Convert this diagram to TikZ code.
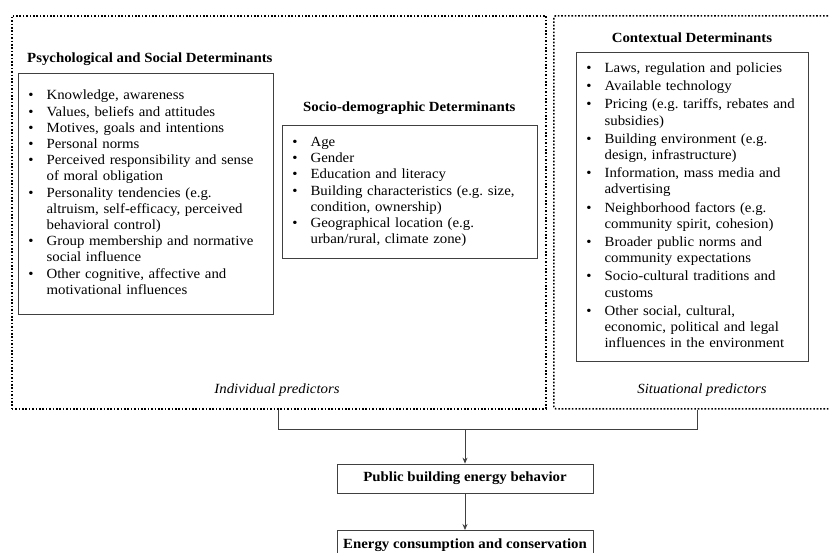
\documentclass[tikz,border=0pt]{standalone}
\usepackage{fontspec}
\setmainfont[FakeStretch=1.06]{Liberation Serif}
\usetikzlibrary{arrows.meta}
\newcommand\lfnt{\fontsize{14}{16.2}\selectfont\frenchspacing}
\tikzset{
  dotbox/.style={draw=black, line width=1.6pt, dash pattern=on 1.6pt off 1.8pt, inner sep=0pt, anchor=north west},
  listbox/.style={draw=black!75, line width=0.8pt, inner xsep=0pt, inner ysep=0pt, align=left, anchor=north west, font=\lfnt},
  head/.style={font=\lfnt\bfseries, inner sep=0pt},
  pred/.style={font=\lfnt\itshape, inner sep=0pt},
  outbox/.style={draw=black!75, line width=0.8pt, inner sep=0pt, font=\lfnt\bfseries},
  conn/.style={draw=black!75, line width=0.8pt},
  arr/.style={-{Stealth[length=6pt,width=5pt]}}
}
\begin{document}
\begin{tikzpicture}[x=1pt,y=-1pt]
\useasboundingbox (0,0) rectangle (829,552);
\clip (0,0) rectangle (829,552);

% dotted frames
\node[dotbox, minimum width=534pt, minimum height=393pt] (indiv) at (11,15) {};
\node[dotbox, rounded corners=2pt, minimum width=300pt, minimum height=393pt] (situ) at (553,15) {};

% headings
\node[head, anchor=west] (hpsy) at (27,59) {Psychological and Social Determinants};
\node[head, anchor=west] (hsoc) at (303,108) {Socio-demographic Determinants};
\node[head] (hcon) at (692,38) {Contextual Determinants};

% psychological list
\node[listbox, text width=255pt, minimum height=241pt] (psy) at (18,73) {%
\begin{tabular}{@{\hspace{10pt}}l@{\hspace{13pt}}l@{}}
\textbullet & Knowledge, awareness\\
\textbullet & Values, beliefs and attitudes\\
\textbullet & Motives, goals and intentions\\
\textbullet & Personal norms\\
\textbullet & Perceived responsibility and sense\\
 & of moral obligation\\
\textbullet & Personality tendencies (e.g.\\
 & altruism, self-efficacy, perceived\\
 & behavioral control)\\
\textbullet & Group membership and normative\\
 & social influence\\
\textbullet & Other cognitive, affective and\\
 & motivational influences
\end{tabular}};

% socio-demographic list
\node[listbox, text width=255pt, minimum height=133pt] (soc) at (282,125) {%
\begin{tabular}{@{\hspace{10pt}}l@{\hspace{13pt}}l@{}}
\textbullet & Age\\
\textbullet & Gender\\
\textbullet & Education and literacy\\
\textbullet & Building characteristics (e.g. size,\\
 & condition, ownership)\\
\textbullet & Geographical location (e.g.\\
 & urban/rural, climate zone)
\end{tabular}};

% contextual list
\node[listbox, text width=232pt, minimum height=309pt] (con) at (576,52) {%
\begin{tabular}{@{\hspace{10pt}}l@{\hspace{13pt}}l@{}}
\textbullet & Laws, regulation and policies\\[2pt]
\textbullet & Available technology\\[2pt]
\textbullet & Pricing (e.g. tariffs, rebates and\\
 & subsidies)\\[2pt]
\textbullet & Building environment (e.g.\\
 & design, infrastructure)\\[2pt]
\textbullet & Information, mass media and\\
 & advertising\\[2pt]
\textbullet & Neighborhood factors (e.g.\\
 & community spirit, cohesion)\\[2pt]
\textbullet & Broader public norms and\\
 & community expectations\\[2pt]
\textbullet & Socio-cultural traditions and\\
 & customs\\[2pt]
\textbullet & Other social, cultural,\\
 & economic, political and legal\\
 & influences in the environment
\end{tabular}};

% predictor labels
\node[pred] (ipred) at (277,390) {Individual predictors};
\node[pred] (spred) at (702,390) {Situational predictors};

% outcome boxes
\node[outbox, minimum width=256pt, minimum height=29pt] (beh) at (465,478.5) {Public building energy behavior};
\node[outbox, anchor=north, minimum width=256pt, minimum height=29pt] (ene) at (465,530) {Energy consumption and conservation};

% connectors
\coordinate (jl) at (278,429);
\coordinate (jr) at (697,429);
\coordinate (jm) at (465,429);
\draw[conn] (jl |- indiv.south) -- (jl) -- (jr) -- (jr |- situ.south);
\draw[conn, arr] (jm) -- (beh.north);
\draw[conn, arr] (beh.south) -- (ene.north);
\end{tikzpicture}
\end{document}
